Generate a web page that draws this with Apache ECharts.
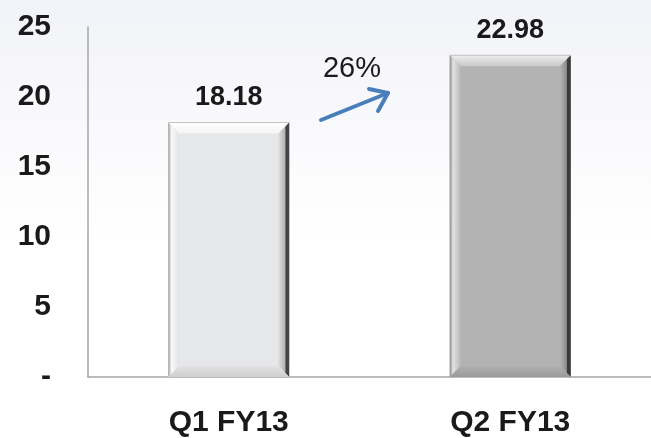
<!DOCTYPE html>
<html>
<head>
<meta charset="utf-8">
<script src="https://cdn.jsdelivr.net/npm/echarts@6/dist/echarts.min.js"></script>
<style>
html, body { margin: 0; padding: 0; }
#chart { width: 651px; height: 438px; }
</style>
</head>
<body>
<div id="chart"></div>
<script>
var categories = ['Q1 FY13', 'Q2 FY13'];
var values = [18.18, 22.98];
var growthLabel = '26%';

// bevel colours per bar
var palettes = [
    { face: '#e6e7e9', top: ['#ffffff', '#f4f4f4'], left: ['#9c9c9c', '#f8f8f8', '#e2e3e5'],
      right: ['#e0e0e0', '#b4b4b4', '#444444'], bot: ['#e2e2e4', '#cfcfcf'] },
    { face: '#b3b3b3', top: ['#eeeeee', '#c8c8c8'], left: ['#8a8a8a', '#e2e2e2', '#b8b8b8'],
      right: ['#b6b6b6', '#8e8e8e', '#3a3a3a'], bot: ['#b0b0b0', '#9a9a9a'] }
];

var grad = function (x, y, x2, y2, colors) {
    return new echarts.graphic.LinearGradient(x, y, x2, y2, colors.map(function (c, k) {
        return { offset: colors.length === 3 && k === 1 ? 0.3 : k / (colors.length - 1), color: c };
    }));
};

var renderBar = function (params, api) {
    var pal = palettes[params.dataIndex];
    var top = api.coord([api.value(0), api.value(1)]);
    var base = api.coord([api.value(0), 0]);
    var w = api.size([1, 0])[0] * 0.43;
    var x0 = top[0] - w / 2, x1 = top[0] + w / 2;
    var y0 = top[1], y1 = base[1];
    var b = 11;
    var rightStops = new echarts.graphic.LinearGradient(0, 0, 1, 0, [
        { offset: 0, color: pal.right[0] }, { offset: 0.6, color: pal.right[1] },
        { offset: 0.7, color: pal.right[2] }, { offset: 1, color: pal.right[2] }
    ]);
    return {
        type: 'group',
        children: [
            { type: 'rect', shape: { x: x0, y: y0, width: w, height: y1 - y0 }, style: { fill: pal.face } },
            { type: 'polygon', shape: { points: [[x0, y0], [x1, y0], [x1 - b, y0 + b], [x0 + b, y0 + b]] },
              style: { fill: grad(0, 0, 0, 1, pal.top) } },
            { type: 'polygon', shape: { points: [[x0, y0], [x0 + b, y0 + b], [x0 + b, y1 - b], [x0, y1]] },
              style: { fill: grad(0, 0, 1, 0, pal.left) } },
            { type: 'polygon', shape: { points: [[x1, y0], [x1, y1], [x1 - b, y1 - b], [x1 - b, y0 + b]] },
              style: { fill: rightStops } },
            { type: 'polygon', shape: { points: [[x0, y1], [x0 + b, y1 - b], [x1 - b, y1 - b], [x1, y1]] },
              style: { fill: grad(0, 0, 0, 1, pal.bot) } },
            { type: 'line', shape: { x1: x0, y1: y0, x2: x1, y2: y0 }, style: { stroke: '#c4c4c4', lineWidth: 1 } },
            { type: 'text', x: top[0], y: y0 - 11,
              style: { text: api.value(1).toFixed(2), align: 'center', verticalAlign: 'bottom',
                       font: 'bold 27px "Liberation Sans", Arial, sans-serif', fill: '#1a1a1a' } }
        ]
    };
};

var option = {
    backgroundColor: new echarts.graphic.LinearGradient(0, 0, 0, 1, [
        { offset: 0, color: '#f2f3f8' },
        { offset: 0.55, color: '#ffffff' },
        { offset: 1, color: '#ffffff' }
    ]),
    animation: false,
    grid: { left: 88, right: 0, top: 27, bottom: 61 },
    xAxis: {
        type: 'category',
        data: categories,
        axisLine: { lineStyle: { color: '#a6a6a6', width: 1.5 } },
        axisTick: { show: false },
        axisLabel: {
            margin: 31,
            color: '#1a1a1a',
            fontWeight: 'bold',
            fontSize: 30,
            fontFamily: '"Liberation Sans", Arial, sans-serif'
        }
    },
    yAxis: {
        type: 'value',
        min: 0,
        max: 25,
        interval: 5,
        splitLine: { show: false },
        axisLine: { show: true, lineStyle: { color: '#a6a6a6', width: 1.5 } },
        axisTick: { show: false },
        axisLabel: {
            margin: 37,
            color: '#1a1a1a',
            fontWeight: 'bold',
            fontSize: 30,
            fontFamily: '"Liberation Sans", Arial, sans-serif',
            formatter: function (v) { return v === 0 ? '-' : String(v); }
        }
    },
    graphic: [
        { type: 'polyline', shape: { points: [[321, 120], [388, 93]] },
          style: { stroke: '#4a7ebb', lineWidth: 4, lineCap: 'round' } },
        { type: 'polyline', shape: { points: [[369, 89], [388, 93], [378, 111]] },
          style: { stroke: '#4a7ebb', lineWidth: 4, lineCap: 'round', lineJoin: 'round', fill: null } },
        { type: 'text', x: 352, y: 69,
          style: { text: growthLabel, align: 'center', verticalAlign: 'middle',
                   font: '29px "Liberation Sans", Arial, sans-serif', fill: '#1a1a1a' } }
    ],
    series: [{
        type: 'custom',
        renderItem: renderBar,
        encode: { x: 0, y: 1 },
        data: values.map(function (v, i) { return [i, v]; })
    }]
};

var myecharts = echarts.init(document.getElementById('chart'));
myecharts.setOption(option);
</script>
</body>
</html>
